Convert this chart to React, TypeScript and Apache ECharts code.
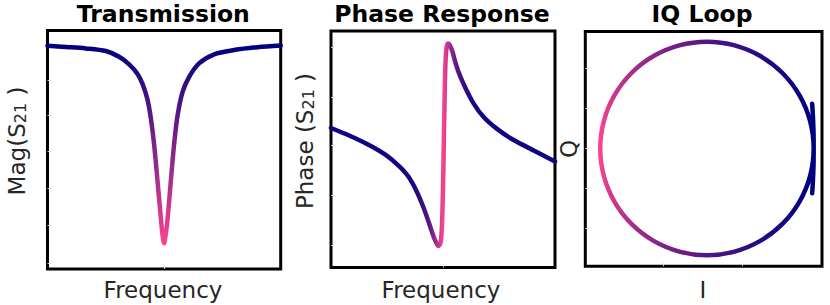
import React, { useEffect, useRef } from 'react';
import * as echarts from 'echarts';

const TITLES = ['Transmission', 'Phase Response', 'IQ Loop'];
const X_LABELS = ['Frequency', 'Frequency', 'I'];

// Panel 1: transmission magnitude vs frequency offset
const FREQ_T = [-1.0, -0.843, -0.672, -0.5, -0.386, -0.3, -0.228, -0.185, -0.142, -0.114, -0.086, -0.057, -0.028, -0.014, 0, 0.014, 0.029, 0.057, 0.086, 0.115, 0.158, 0.214, 0.3, 0.429, 0.6, 0.801, 1.0];
const MAG_T = [0.936, 0.931, 0.925, 0.914, 0.890, 0.858, 0.818, 0.776, 0.709, 0.633, 0.524, 0.372, 0.215, 0.145, 0.108, 0.145, 0.205, 0.365, 0.524, 0.642, 0.742, 0.805, 0.862, 0.900, 0.918, 0.930, 0.937];

// Panel 2: phase vs frequency offset
const FREQ_P = [-1.0, -0.848, -0.670, -0.518, -0.402, -0.3125, -0.241, -0.179, -0.134, -0.098, -0.067, -0.040, -0.022, -0.012, -0.0045, 0.003, 0.012, 0.021, 0.031, 0.045, 0.0625, 0.085, 0.107, 0.138, 0.196, 0.271, 0.3625, 0.482, 0.631, 0.810, 1.0];
const PHASE_P = [0.590, 0.560, 0.520, 0.478, 0.433, 0.387, 0.328, 0.260, 0.201, 0.150, 0.112, 0.091, 0.104, 0.150, 0.243, 0.412, 0.666, 0.856, 0.928, 0.947, 0.939, 0.911, 0.873, 0.827, 0.763, 0.695, 0.636, 0.586, 0.539, 0.495, 0.448];

// Panel 3: IQ loop
const I_IQ = [0.993, 0.997, 0.9995, 1.0, 0.983, 0.933, 0.8536, 0.75, 0.6294, 0.5, 0.3706, 0.25, 0.1464, 0.067, 0.017, 0, 0.017, 0.067, 0.1464, 0.25, 0.3706, 0.5, 0.6294, 0.75, 0.8536, 0.933, 0.983, 1.0, 0.9995, 0.997, 0.993];
const Q_IQ = [0.21, 0.14, 0.07, 0, -0.1294, -0.25, -0.3536, -0.433, -0.483, -0.5, -0.483, -0.433, -0.3536, -0.25, -0.1294, 0, 0.1294, 0.25, 0.3536, 0.433, 0.483, 0.5, 0.483, 0.433, 0.3536, 0.25, 0.1294, 0, -0.07, -0.14, -0.21];

// Faint inner tick positions
const TICKS_X = [[0], [0], [0.294, 0.664]];
const TICKS_Y = [[0.024, 0.184, 0.338, 0.492, 0.646, 0.792], [0.095, 0.307, 0.518, 0.721, 0.932], [-0.374, -0.187, 0, 0.188, 0.376]];

const NAVY = [0, 0, 128];
const PINK = [250, 68, 144];
const FONT = 'DejaVu Sans';

function mix(w: number): string {
  const c = NAVY.map((n, i) => Math.round(n + (PINK[i] - n) * w));
  return `rgb(${c[0]},${c[1]},${c[2]})`;
}
// resonance "closeness" weight used only for colouring
function weightFromOffset(x: number): number {
  const y = 3.68 * x;
  const u = 1 + 4 * y * y;
  const s = Math.sqrt(Math.max(0, 1 - 0.987 / u));
  return Math.min(1, Math.max(0, (1 - s) / 0.885));
}
function weightFromI(I: number): number {
  const s = Math.sqrt(0.013225 + 0.987 * Math.max(0, I));
  return Math.min(1, Math.max(0, (1 - s) / 0.885));
}

export default function App() {
  const ref = useRef<HTMLDivElement>(null);
  useEffect(() => {
    if (!ref.current) return;
    const chart = echarts.init(ref.current, undefined, { renderer: 'svg' });

    const grids = [
      { left: 47.5, top: 30.5, width: 233.2, height: 238.5 },
      { left: 331, top: 31, width: 224, height: 236.5 },
      { left: 585.3, top: 31.5, width: 236.7, height: 234.8 },
    ];
    const xr = [[-1, 1], [-1, 1], [-0.07, 1.039]];
    const yr = [[0, 1], [0, 1], [-0.552, 0.548]];

    const p2Colors: string[] = [];
    for (let k = 0; k <= 32; k++) p2Colors.push(mix(weightFromOffset(-0.4 + k * 0.025)));
    const p3Colors: string[] = [];
    for (let k = 0; k <= 40; k++) p3Colors.push(mix(weightFromI(k / 40)));

    const tickStyle = (vals: number[]) => ({
      show: true,
      inside: true,
      length: 3,
      customValues: vals,
      lineStyle: { color: '#d4d4d4', width: 1 },
    });

    const lineSeries = (idx: number, xs: number[], ys: number[], sm: number) => ({
      type: 'line',
      xAxisIndex: idx,
      yAxisIndex: idx,
      data: xs.map((x, i) => [x, ys[i]]),
      showSymbol: false,
      symbol: 'none',
      smooth: sm,
      lineStyle: { width: 4.5, cap: 'round', join: 'round' },
      z: 3,
    });

    const labelColor = '#262626';
    const titleX = [163.3, 442, 702];
    const xLabelX = [163, 441, 703];

    const option: any = {
      animation: false,
      backgroundColor: '#ffffff',
      grid: grids.map((g) => ({
        ...g,
        show: true,
        borderColor: '#000000',
        borderWidth: 3,
        backgroundColor: 'transparent',
        containLabel: false,
        outerBoundsMode: 'none',
      })),
      xAxis: [0, 1, 2].map((i) => ({
        type: 'value',
        gridIndex: i,
        position: 'bottom',
        min: xr[i][0],
        max: xr[i][1],
        axisLine: { show: false, onZero: false },
        axisLabel: { show: false },
        splitLine: { show: false },
        axisTick: tickStyle(TICKS_X[i]),
      })),
      yAxis: [0, 1, 2].map((i) => ({
        type: 'value',
        gridIndex: i,
        position: 'left',
        min: yr[i][0],
        max: yr[i][1],
        axisLine: { show: false, onZero: false },
        axisLabel: { show: false },
        splitLine: { show: false },
        axisTick: tickStyle(TICKS_Y[i]),
      })),
      visualMap: [
        { type: 'continuous', show: false, seriesIndex: 0, dimension: 1, min: 0.108, max: 0.937, inRange: { color: [mix(1), mix(0)] } },
        { type: 'continuous', show: false, seriesIndex: 1, dimension: 0, min: -0.4, max: 0.4, inRange: { color: p2Colors } },
        { type: 'continuous', show: false, seriesIndex: 2, dimension: 0, min: 0, max: 1, inRange: { color: p3Colors } },
      ],
      series: [
        lineSeries(0, FREQ_T, MAG_T, 0.3),
        lineSeries(1, FREQ_P, PHASE_P, 0.3),
        lineSeries(2, I_IQ, Q_IQ, 0.35),
      ],
      graphic: [
        ...TITLES.map((t, i) => ({
          type: 'text',
          x: titleX[i],
          y: 13.8,
          style: { text: t, fontSize: 23.5, fontWeight: 'bold', fontFamily: FONT, fill: '#000', align: 'center', verticalAlign: 'middle' },
        })),
        ...X_LABELS.map((t, i) => ({
          type: 'text',
          x: xLabelX[i],
          y: 290,
          style: { text: t, fontSize: 23, fontFamily: FONT, fill: labelColor, align: 'center', verticalAlign: 'middle' },
        })),
        ...[
          { x: 17, y: 141, t: '{a|Mag(S}{b|21}{a| )}' },
          { x: 305, y: 141, t: '{a|Phase (S}{b|21}{a| )}' },
        ].map((o) => ({
          type: 'text',
          x: o.x,
          y: o.y,
          rotation: Math.PI / 2,
          style: {
            text: o.t,
            fontSize: 23,
            fontFamily: FONT,
            fill: labelColor,
            align: 'center',
            verticalAlign: 'middle',
            rich: {
              a: { fontSize: 23, lineHeight: 23, verticalAlign: 'top', fontFamily: FONT, fill: labelColor },
              b: { fontSize: 16, lineHeight: 16, padding: [9, 0, 0, 0], verticalAlign: 'bottom', fontFamily: FONT, fill: labelColor },
            },
          },
        })),
        {
          type: 'text',
          x: 569,
          y: 149,
          rotation: Math.PI / 2,
          style: { text: 'Q', fontSize: 23, fontFamily: FONT, fill: labelColor, align: 'center', verticalAlign: 'middle' },
        },
      ],
    };
    chart.setOption(option);
    return () => chart.dispose();
  }, []);
  return (
    <div
      ref={ref}
      style={{ position: 'fixed', left: 0, top: 0, width: 830, height: 305, background: '#fff' }}
    />
  );
}
